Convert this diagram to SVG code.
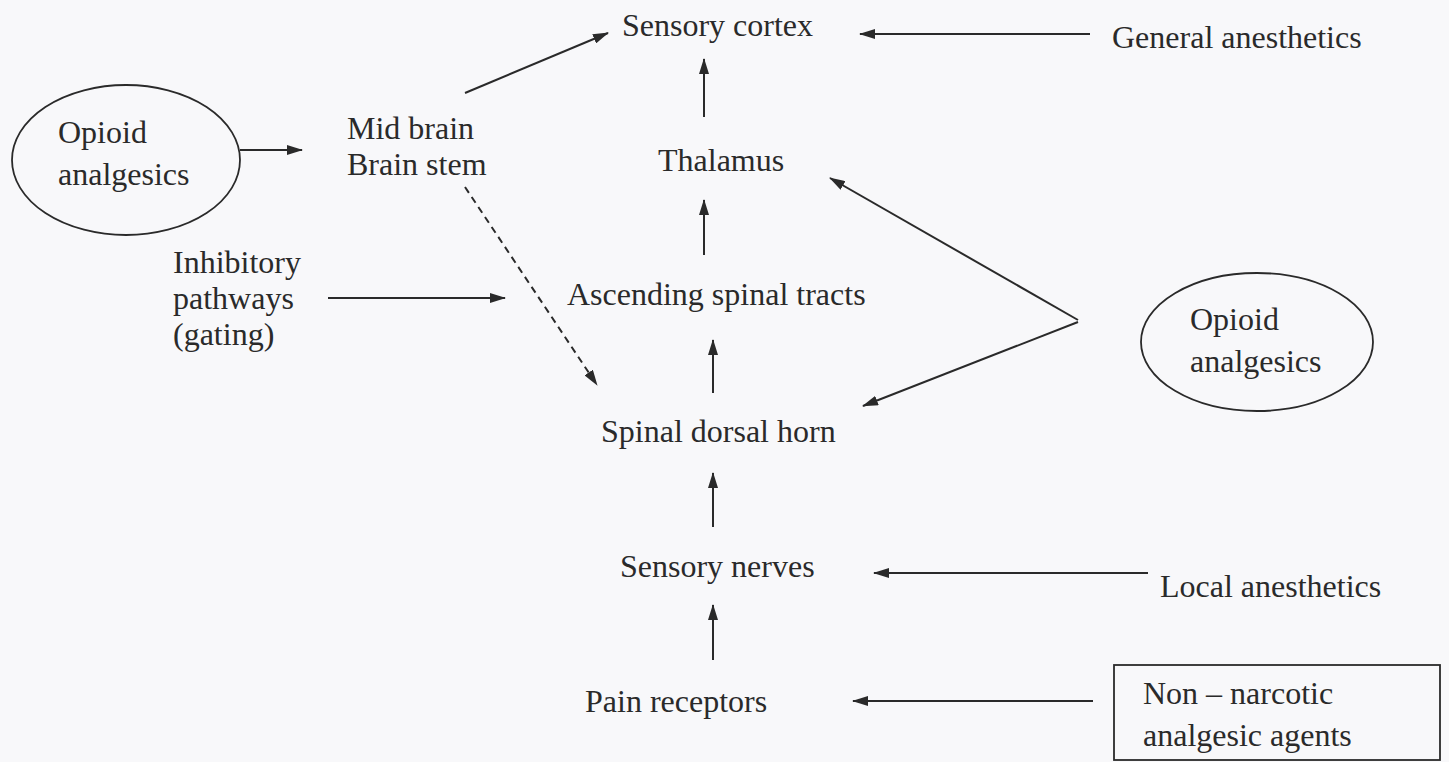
<svg xmlns="http://www.w3.org/2000/svg" width="1449" height="762" viewBox="0 0 1449 762">
<style>
text{font-family:"Liberation Serif","Times New Roman",serif;font-size:32px;fill:#2a2a2a}
.ln{stroke:#2a2a2a;stroke-width:2;fill:none}
.sh{stroke:#2a2a2a;stroke-width:1.8;fill:none}
</style>
<defs>
<marker id="ah" markerWidth="16" markerHeight="10" refX="15" refY="5" orient="auto" markerUnits="userSpaceOnUse">
<path d="M0,0 L16,5 L0,10 Z" fill="#2a2a2a"/>
</marker>
</defs>
<rect width="1449" height="762" fill="#f8f8fa"/>
<g id="connectors">
<line class="ln" x1="1090" y1="34" x2="860" y2="34" marker-end="url(#ah)"/>
<line class="ln" x1="465" y1="93" x2="608" y2="33" marker-end="url(#ah)"/>
<line class="ln" x1="704" y1="117" x2="704" y2="59" marker-end="url(#ah)"/>
<line class="ln" x1="704" y1="255" x2="704" y2="200" marker-end="url(#ah)"/>
<line class="ln" x1="713" y1="393" x2="713" y2="340" marker-end="url(#ah)"/>
<line class="ln" x1="713" y1="527" x2="713" y2="473" marker-end="url(#ah)"/>
<line class="ln" x1="713" y1="660" x2="713" y2="605" marker-end="url(#ah)"/>
<line class="ln" x1="240" y1="150" x2="302" y2="150" marker-end="url(#ah)"/>
<line class="ln" x1="328" y1="298" x2="505" y2="298" marker-end="url(#ah)"/>
<line class="ln" x1="465" y1="187" x2="597" y2="385" stroke-dasharray="7,5" marker-end="url(#ah)"/>
<line class="ln" x1="1078" y1="320" x2="830" y2="178" marker-end="url(#ah)"/>
<line class="ln" x1="1078" y1="322" x2="863" y2="406" marker-end="url(#ah)"/>
<line class="ln" x1="1148" y1="573" x2="874" y2="573" marker-end="url(#ah)"/>
<line class="ln" x1="1093" y1="701" x2="853" y2="701" marker-end="url(#ah)"/>
</g>
<g id="sensory-cortex"><text x="622" y="36">Sensory cortex</text></g>
<g id="general-anesthetics"><text x="1112" y="48">General anesthetics</text></g>
<g id="opioid-left"><ellipse class="sh" cx="126" cy="160" rx="114" ry="75"/><text x="58" y="143">Opioid</text><text x="58" y="185">analgesics</text></g>
<g id="midbrain"><text x="347" y="139">Mid brain</text><text x="347" y="175">Brain stem</text></g>
<g id="thalamus"><text x="658" y="171">Thalamus</text></g>
<g id="inhibitory"><text x="173" y="273">Inhibitory</text><text x="173" y="309">pathways</text><text x="173" y="345">(gating)</text></g>
<g id="ascending"><text x="567" y="305">Ascending spinal tracts</text></g>
<g id="opioid-right"><ellipse class="sh" cx="1257" cy="342" rx="116" ry="69"/><text x="1190" y="330">Opioid</text><text x="1190" y="372">analgesics</text></g>
<g id="dorsal-horn"><text x="601" y="442">Spinal dorsal horn</text></g>
<g id="sensory-nerves"><text x="620" y="577">Sensory nerves</text></g>
<g id="local-anesthetics"><text x="1160" y="597">Local anesthetics</text></g>
<g id="pain-receptors"><text x="585" y="712">Pain receptors</text></g>
<g id="non-narcotic"><rect class="sh" x="1114" y="665" width="326" height="95"/><text x="1143" y="704">Non – narcotic</text><text x="1143" y="746">analgesic agents</text></g>
</svg>
